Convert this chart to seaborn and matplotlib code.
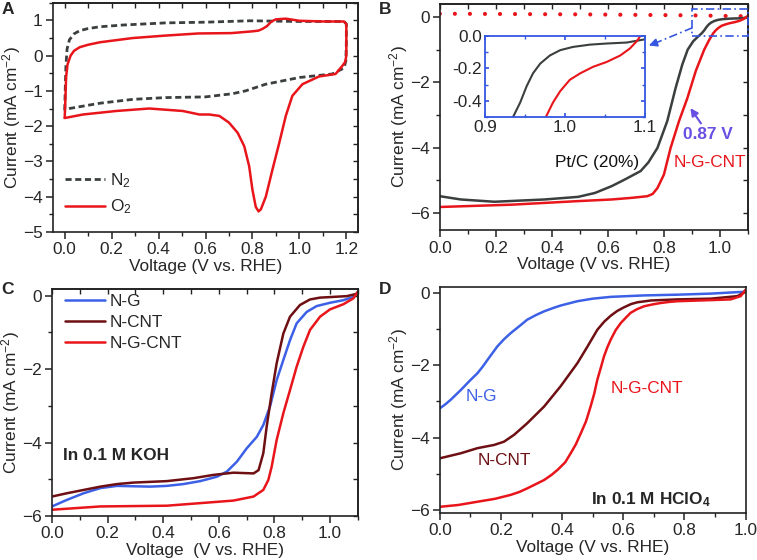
import matplotlib
matplotlib.use("Agg")
import matplotlib.pyplot as plt
from matplotlib.ticker import MultipleLocator, NullFormatter, FuncFormatter
from matplotlib.patches import Rectangle
import seaborn as sns

# ---- panel A: CV in N2 / O2 ----
cv_n2_v = [0.0, 0.002, 0.005, 0.01, 0.02, 0.04, 0.064, 0.10, 0.15, 0.25, 0.43, 0.6, 0.79, 1.0, 1.19,
           1.2, 1.2, 1.198, 1.19, 1.14, 1.0, 0.857, 0.77, 0.715, 0.6, 0.43, 0.29, 0.15, 0.08, 0.02, 0.0]
cv_n2_i = [-1.55, -1.0, -0.3, 0.19, 0.45, 0.62, 0.71, 0.77, 0.82, 0.87, 0.93, 0.95, 0.99, 0.97, 0.97,
           0.9, 0.38, -0.15, -0.35, -0.52, -0.62, -0.81, -1.0, -1.08, -1.17, -1.19, -1.24, -1.35, -1.43, -1.5, -1.55]
cv_o2_v = [0.0, 0.003, 0.006, 0.012, 0.025, 0.04, 0.064, 0.1, 0.15, 0.29, 0.43, 0.57, 0.71, 0.8, 0.825,
           0.843, 0.862, 0.878, 0.89, 0.9, 0.942, 1.0, 1.1, 1.19, 1.2, 1.2, 1.195, 1.183, 1.154, 1.084, 1.013,
           0.97, 0.942, 0.914, 0.885, 0.857, 0.836, 0.826, 0.814, 0.80, 0.786, 0.765, 0.737, 0.70, 0.659,
           0.616, 0.574, 0.503, 0.36, 0.22, 0.078, 0.0]
cv_o2_i = [-1.76, -1.2, -0.6, -0.25, 0.0, 0.14, 0.24, 0.31, 0.38, 0.5, 0.57, 0.63, 0.64, 0.69, 0.71,
           0.76, 0.84, 0.95, 1.0, 1.03, 1.05, 0.99, 0.97, 0.97, 0.9, 0.0, -0.18, -0.29, -0.52, -0.59, -0.81,
           -1.14, -1.71, -2.48, -3.24, -4.0, -4.36, -4.42, -4.29, -3.81, -3.14, -2.57, -2.19, -1.9, -1.71,
           -1.67, -1.67, -1.57, -1.5, -1.57, -1.67, -1.77]

# ---- panel B: LSV N-G-CNT vs Pt/C ----
ptc_v = [0.0, 0.075, 0.195, 0.374, 0.494, 0.554, 0.614, 0.66, 0.717, 0.745, 0.777, 0.812, 0.842, 0.866,
         0.885, 0.905, 0.922, 0.935, 0.944, 0.952, 0.96, 0.969, 0.981, 0.994, 1.01, 1.031, 1.052, 1.077, 1.1]
ptc_i = [-5.49, -5.59, -5.66, -5.59, -5.51, -5.39, -5.18, -4.98, -4.72, -4.45, -4.01, -3.19, -2.17, -1.45,
         -1.0, -0.74, -0.6, -0.5, -0.41, -0.31, -0.23, -0.17, -0.12, -0.087, -0.067, -0.053, -0.046, -0.04, -0.02]
ngcnt_b_v = [0.0, 0.255, 0.494, 0.614, 0.685, 0.741, 0.76, 0.777, 0.80, 0.824, 0.854, 0.884, 0.914, 0.944,
             0.962, 0.976, 0.985, 0.994, 1.006, 1.019, 1.035, 1.052, 1.069, 1.081, 1.09, 1.094, 1.1]
ngcnt_b_i = [-5.82, -5.75, -5.64, -5.59, -5.54, -5.49, -5.42, -5.24, -4.83, -4.01, -3.19, -2.48, -1.65, -1.0,
             -0.7, -0.5, -0.41, -0.34, -0.27, -0.23, -0.19, -0.16, -0.12, -0.077, -0.03, 0.0, 0.03]
ring_v = [0.0, 0.5, 0.9, 1.1]
ring_i = [0.1, 0.08, 0.05, 0.02]

# ---- panel C: 0.1 M KOH ----
ng_c_v = [0.0, 0.054, 0.114, 0.174, 0.234, 0.353, 0.413, 0.473, 0.533, 0.593, 0.629, 0.665, 0.70, 0.737,
          0.76, 0.784, 0.808, 0.832, 0.856, 0.88, 0.916, 0.952, 1.0, 1.048, 1.084, 1.1]
ng_c_i = [-5.74, -5.56, -5.38, -5.24, -5.18, -5.2, -5.18, -5.13, -5.05, -4.93, -4.79, -4.52, -4.16, -3.84,
          -3.52, -3.02, -2.3, -1.75, -1.21, -0.75, -0.44, -0.28, -0.19, -0.12, -0.03, 0.1]
ncnt_c_v = [0.0, 0.054, 0.114, 0.174, 0.234, 0.293, 0.413, 0.509, 0.581, 0.653, 0.725, 0.743, 0.76, 0.772,
            0.79, 0.808, 0.832, 0.856, 0.892, 0.928, 0.964, 1.06, 1.1]
ncnt_c_i = [-5.47, -5.38, -5.29, -5.2, -5.13, -5.09, -5.05, -4.97, -4.88, -4.82, -4.84, -4.75, -4.29, -3.57,
            -2.66, -1.84, -1.03, -0.57, -0.25, -0.1, -0.05, -0.01, 0.06]
ngcnt_c_v = [0.0, 0.174, 0.413, 0.533, 0.653, 0.725, 0.76, 0.778, 0.79, 0.808, 0.832, 0.856, 0.88, 0.904,
             0.928, 0.964, 1.0, 1.048, 1.084, 1.1]
ngcnt_c_i = [-5.83, -5.74, -5.72, -5.65, -5.58, -5.47, -5.29, -5.02, -4.66, -3.93, -3.2, -2.57, -1.93, -1.39,
             -0.93, -0.57, -0.37, -0.23, -0.07, 0.11]

# ---- panel D: 0.1 M HClO4 ----
ng_d_v = [0.0, 0.018, 0.036, 0.069, 0.101, 0.123, 0.14, 0.156, 0.188, 0.21, 0.232, 0.26, 0.286, 0.315,
          0.341, 0.37, 0.395, 0.45, 0.5, 0.559, 0.668, 0.777, 0.886, 0.995, 1.0]
ng_d_i = [-3.19, -3.08, -2.95, -2.68, -2.4, -2.22, -2.04, -1.85, -1.48, -1.28, -1.11, -0.92, -0.74, -0.61,
          -0.51, -0.42, -0.35, -0.23, -0.16, -0.11, -0.07, -0.05, -0.02, 0.03, 0.05]
ncnt_d_v = [0.0, 0.069, 0.123, 0.178, 0.21, 0.243, 0.286, 0.341, 0.395, 0.45, 0.483, 0.515, 0.537, 0.559,
            0.58, 0.602, 0.625, 0.646, 0.69, 0.777, 0.886, 0.973, 1.0]
ncnt_d_i = [-4.57, -4.43, -4.29, -4.2, -4.11, -3.92, -3.6, -3.14, -2.58, -1.94, -1.48, -1.02, -0.8, -0.63,
            -0.5, -0.4, -0.31, -0.26, -0.21, -0.18, -0.16, -0.09, 0.03]
ngcnt_d_v = [0.0, 0.06, 0.123, 0.18, 0.232, 0.26, 0.286, 0.31, 0.341, 0.365, 0.385, 0.41, 0.428, 0.445,
             0.461, 0.478, 0.493, 0.505, 0.515, 0.527, 0.537, 0.548, 0.559, 0.575, 0.592, 0.61, 0.624,
             0.645, 0.668, 0.695, 0.722, 0.75, 0.777, 0.886, 0.951, 0.984, 1.0]
ngcnt_d_i = [-5.91, -5.86, -5.77, -5.69, -5.58, -5.5, -5.4, -5.3, -5.17, -5.03, -4.89, -4.68, -4.43, -4.18,
             -3.88, -3.55, -3.14, -2.78, -2.4, -2.05, -1.75, -1.5, -1.29, -1.03, -0.83, -0.67, -0.55,
             -0.45, -0.37, -0.32, -0.28, -0.25, -0.23, -0.2, -0.18, -0.09, 0.09]

RED = "#e8151b"
GREY = "#3b3f3f"
BLUE = "#3c60e6"
DRED = "#6e1013"
FRAME = "#3556e0"
PURPLE = "#6a4fe4"

sns.set_theme(style="ticks")
plt.rcParams["font.family"] = ["Liberation Sans", "DejaVu Sans"]
plt.rcParams["mathtext.fontset"] = "custom"
plt.rcParams["mathtext.rm"] = "Liberation Sans"
plt.rcParams["mathtext.bf"] = "Liberation Sans:bold"
plt.rcParams["mathtext.it"] = "Liberation Sans:italic"
FS = 12.4
YLAB = r"Current (mA cm$^{-2}$)"

fig = plt.figure(figsize=(7.57, 5.6), dpi=100)


def style_axis(ax, xmaj, xmin, ymaj, ymin, mirror=True):
    for s in ax.spines.values():
        s.set_linewidth(1.2)
        s.set_color("#222222")
    ax.xaxis.set_major_locator(MultipleLocator(xmaj))
    ax.xaxis.set_minor_locator(MultipleLocator(xmin))
    ax.yaxis.set_major_locator(MultipleLocator(ymaj))
    ax.yaxis.set_minor_locator(MultipleLocator(ymin))
    ax.tick_params(which="major", direction="out", length=5, width=1.1, labelsize=FS, pad=2.5,
                   color="#222222", bottom=True, left=True)
    ax.tick_params(which="minor", direction="out", length=3, width=1.0, color="#222222",
                   bottom=True, left=True)
    if mirror:
        top = ax.secondary_xaxis("top")
        top.xaxis.set_major_locator(MultipleLocator(xmaj))
        top.xaxis.set_minor_locator(MultipleLocator(xmin))
        top.xaxis.set_major_formatter(NullFormatter())
        top.tick_params(which="both", direction="in", length=3.5, width=1.0, color="#222222")
        right = ax.secondary_yaxis("right")
        right.yaxis.set_major_locator(MultipleLocator(ymaj))
        right.yaxis.set_minor_locator(MultipleLocator(ymin))
        right.yaxis.set_major_formatter(NullFormatter())
        right.tick_params(which="both", direction="in", length=3.5, width=1.0, color="#222222")
        for sec in (top, right):
            for s in sec.spines.values():
                s.set_linewidth(1.2)
                s.set_color("#222222")
    ax.set_ylabel(YLAB, fontsize=FS, labelpad=0)


# ---------------- A ----------------
axA = fig.add_axes([0.070, 0.586, 0.403, 0.409])
sns.lineplot(x=cv_n2_v, y=cv_n2_i, sort=False, estimator=None, ax=axA, color=GREY, lw=2.0,
             linestyle=(0, (2.2, 1.3)), label=r"N$_2$")
sns.lineplot(x=cv_o2_v, y=cv_o2_i, sort=False, estimator=None, ax=axA, color=RED, lw=1.8, label=r"O$_2$")
axA.set_xlim(-0.05, 1.25)
axA.set_ylim(-5, 1.5)
style_axis(axA, 0.2, 0.1, 1, 0.5)
axA.set_xlabel("Voltage (V vs. RHE)", fontsize=FS, labelpad=1)
axA.legend(loc="lower left", bbox_to_anchor=(0.0, 0.015), frameon=False, fontsize=FS,
           handlelength=2.3, handletextpad=0.3, labelspacing=0.45, borderaxespad=0.3)

# ---------------- B ----------------
axB = fig.add_axes([0.581, 0.589, 0.407, 0.404])
sns.lineplot(x=ring_v, y=ring_i, sort=False, estimator=None, ax=axB, color=RED, lw=3.0,
             linestyle=(0, (0.01, 3.6)), dash_capstyle="round")
sns.lineplot(x=ptc_v, y=ptc_i, sort=False, estimator=None, ax=axB, color=GREY, lw=1.8)
sns.lineplot(x=ngcnt_b_v, y=ngcnt_b_i, sort=False, estimator=None, ax=axB, color=RED, lw=1.8)
axB.set_xlim(0, 1.1)
axB.set_ylim(-6.53, 0.4)
style_axis(axB, 0.2, 0.1, 2, 1)
axB.set_xlabel("Voltage (V vs. RHE)", fontsize=FS, labelpad=1)
axB.add_patch(Rectangle((0.902, -0.58), 0.2, 0.81, fill=False, ec=FRAME, lw=1.2,
                        linestyle=(0, (5, 2, 1, 2)), clip_on=False, zorder=4))
axB.plot([0.902, 0.752], [-0.33, -0.86], color=FRAME, lw=1.2, linestyle=(0, (5, 2, 1, 2)))
axB.annotate("", xy=(0.737, -0.90), xytext=(0.77, -0.80),
             arrowprops=dict(arrowstyle="-|>", color=FRAME, lw=1.2, mutation_scale=12))
axB.annotate("", xy=(0.889, -2.72), xytext=(0.938, -3.33),
             arrowprops=dict(arrowstyle="-|>", color=PURPLE, lw=1.5, mutation_scale=11))
axB.text(0.87, -3.6, "0.87 V", color=PURPLE, fontsize=FS, fontweight="bold", ha="left", va="center")
axB.text(0.41, -4.47, "Pt/C (20%)", color="#111111", fontsize=FS, ha="left", va="center")
axB.text(0.835, -4.47, "N-G-CNT", color=RED, fontsize=FS, ha="left", va="center")

ins = fig.add_axes([0.6407, 0.791, 0.2114, 0.1446])
sns.lineplot(x=ptc_v, y=ptc_i, sort=False, estimator=None, ax=ins, color=GREY, lw=1.5)
sns.lineplot(x=ngcnt_b_v, y=ngcnt_b_i, sort=False, estimator=None, ax=ins, color=RED, lw=1.5)
ins.set_xlim(0.9, 1.1)
ins.set_ylim(-0.5, 0.0)
ins.set_facecolor("white")
for s in ins.spines.values():
    s.set_color(FRAME)
    s.set_linewidth(1.3)
ins.xaxis.set_major_locator(MultipleLocator(0.1))
ins.xaxis.set_minor_locator(MultipleLocator(0.05))
ins.yaxis.set_major_locator(MultipleLocator(0.2))
ins.yaxis.set_minor_locator(MultipleLocator(0.1))
ins.yaxis.set_major_formatter(FuncFormatter(lambda v, p: f"{v:.1f}".replace("\u2212", "-")))
ins.xaxis.set_major_formatter(FuncFormatter(lambda v, p: f"{v:.1f}"))
ins.tick_params(which="both", direction="in", color=FRAME, top=True, right=True, bottom=True, left=True,
                labelsize=FS, pad=2)
ins.tick_params(which="major", length=3)
ins.tick_params(which="minor", length=2)
ins.set_xlabel("")
ins.set_ylabel("")

# ---------------- C ----------------
axC = fig.add_axes([0.0687, 0.0786, 0.404, 0.405])
sns.lineplot(x=ng_c_v, y=ng_c_i, sort=False, estimator=None, ax=axC, color=BLUE, lw=1.8, label="N-G")
sns.lineplot(x=ncnt_c_v, y=ncnt_c_i, sort=False, estimator=None, ax=axC, color=DRED, lw=1.8, label="N-CNT")
sns.lineplot(x=ngcnt_c_v, y=ngcnt_c_i, sort=False, estimator=None, ax=axC, color=RED, lw=1.8, label="N-G-CNT")
axC.set_xlim(0, 1.1)
axC.set_ylim(-6.0, 0.18)
style_axis(axC, 0.2, 0.1, 2, 1)
axC.set_xlabel("Voltage  (V vs. RHE)", fontsize=FS, labelpad=1)
axC.legend(loc="upper left", bbox_to_anchor=(0.02, 1.01), frameon=False, fontsize=FS,
           handlelength=2.3, handletextpad=0.3, labelspacing=0.35, borderaxespad=0.0)
axC.text(0.04, -4.34, "In 0.1 M KOH", fontsize=FS, fontweight="bold", ha="left", va="center")

# ---------------- D ----------------
axD = fig.add_axes([0.581, 0.084, 0.404, 0.404])
sns.lineplot(x=ng_d_v, y=ng_d_i, sort=False, estimator=None, ax=axD, color=BLUE, lw=1.8)
sns.lineplot(x=ncnt_d_v, y=ncnt_d_i, sort=False, estimator=None, ax=axD, color=DRED, lw=1.8)
sns.lineplot(x=ngcnt_d_v, y=ngcnt_d_i, sort=False, estimator=None, ax=axD, color=RED, lw=1.8)
axD.set_xlim(0, 1.0)
axD.set_ylim(-6.08, 0.17)
style_axis(axD, 0.2, 0.1, 2, 1, mirror=False)
axD.set_xlabel("Voltage (V vs. RHE)", fontsize=FS, labelpad=1)
axD.text(0.085, -2.86, "N-G", color=BLUE, fontsize=FS, ha="left", va="center")
axD.text(0.123, -4.62, "N-CNT", color=DRED, fontsize=FS, ha="left", va="center")
axD.text(0.559, -2.63, "N-G-CNT", color=RED, fontsize=FS, ha="left", va="center")
axD.text(0.493, -5.7, r"In 0.1 M HClO$_\mathbf{4}$", fontsize=FS, fontweight="bold", ha="left", va="center")

# panel letters
for lab, (x, y) in zip("ABCD", [(0.002, 0.997), (0.5, 0.997), (0.002, 0.497), (0.5, 0.497)]):
    fig.text(x, y, lab, fontsize=12.5, fontweight="bold", ha="left", va="top")

fig.savefig("out.png", dpi=100)
